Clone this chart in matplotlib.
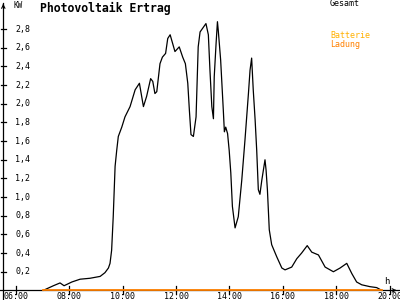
import numpy as np
import matplotlib.pyplot as plt

# Gesamt (kW), time in hours
hours = [7.03, 7.41, 7.66, 7.81, 8.10, 8.41, 8.78, 9.16, 9.34, 9.47, 9.53, 9.59, 9.65, 9.72,
         9.78, 9.84, 9.97, 10.09, 10.28, 10.47, 10.63, 10.78, 10.90, 11.05, 11.13, 11.21,
         11.28, 11.40, 11.49, 11.61, 11.69, 11.78, 11.96, 12.12, 12.25, 12.35, 12.44, 12.50,
         12.56, 12.65, 12.75, 12.83, 12.90, 13.12, 13.21, 13.27, 13.34, 13.40, 13.43, 13.50,
         13.55, 13.58, 13.67, 13.77, 13.81, 13.86, 13.93, 13.99, 14.05, 14.11, 14.21, 14.33,
         14.46, 14.58, 14.71, 14.77, 14.83, 14.89, 14.96, 15.02, 15.08, 15.14, 15.21, 15.27,
         15.33, 15.37, 15.42, 15.49, 15.58, 15.77, 15.96, 16.08, 16.33, 16.52, 16.70, 16.91,
         17.08, 17.33, 17.58, 17.89, 18.14, 18.39, 18.58, 18.76, 18.95, 19.26, 19.51, 19.70]
gesamt = [0.00, 0.05, 0.08, 0.05, 0.09, 0.12, 0.13, 0.15, 0.19, 0.24, 0.29, 0.43, 0.79, 1.33,
          1.50, 1.65, 1.75, 1.86, 1.97, 2.15, 2.22, 1.97, 2.08, 2.27, 2.24, 2.11,
          2.13, 2.43, 2.50, 2.54, 2.70, 2.74, 2.56, 2.61, 2.50, 2.43, 2.22, 1.93,
          1.67, 1.65, 1.86, 2.61, 2.77, 2.86, 2.74, 2.36, 1.97, 1.84, 2.29, 2.65,
          2.88, 2.79, 2.47, 1.93, 1.70, 1.75, 1.68, 1.50, 1.26, 0.90, 0.67, 0.79,
          1.18, 1.61, 2.11, 2.36, 2.49, 2.15, 1.83, 1.50, 1.08, 1.03, 1.18, 1.29,
          1.40, 1.29, 1.08, 0.65, 0.49, 0.36, 0.24, 0.22, 0.25, 0.34, 0.40, 0.48,
          0.41, 0.38, 0.25, 0.20, 0.24, 0.29, 0.18, 0.09, 0.06, 0.04, 0.03, 0.00]

# Ladung (battery charge) stays at zero
ladung_hours = [7.03, 19.70]
ladung = [0.0, 0.0]

y_ticks = [0.2, 0.4, 0.6, 0.8, 1.0, 1.2, 1.4, 1.6, 1.8, 2.0, 2.2, 2.4, 2.6, 2.8]
x_ticks = [6, 8, 10, 12, 14, 16, 18, 20]
x_labels = ['06:00', '08:00', '10:00', '12:00', '14:00', '16:00', '18:00', '20:00']

W, H = 400, 300
px_h = 26.72      # pixels per hour
px_kw = 93.3      # pixels per kW
x06 = 15.7        # pixel of 06:00
y0 = 290.4        # pixel of 0 kW

t0 = 6 - x06 / px_h
t1 = t0 + W / px_h
v_top = y0 / px_kw
v_bot = -(H - y0) / px_kw

fig = plt.figure(figsize=(4, 3), dpi=100)
ax = fig.add_axes([0, 0, 1, 1])
ax.set_xlim(t0, t1)
ax.set_ylim(v_bot, v_top)
ax.axis('off')

mono = 'DejaVu Sans Mono'

def fx(px):
    return px / W

def fy(py):
    return 1 - py / H

# axes lines with arrows
y_axis_t = t0 + 3.3 / px_h
ax.plot([y_axis_t, y_axis_t], [v_bot, v_top - 3 / px_kw], color='black', lw=0.9)
ax.plot([t0, t1 - 1 / px_h], [0, 0], color='black', lw=0.9)
ax.annotate('', xy=(y_axis_t, v_top - 1 / px_kw), xytext=(y_axis_t, v_top - 8 / px_kw),
            arrowprops=dict(arrowstyle='->', color='black', lw=0.8, mutation_scale=6))
ax.annotate('', xy=(t1 - 0.5 / px_h, 0), xytext=(t1 - 8 / px_h, 0),
            arrowprops=dict(arrowstyle='->', color='black', lw=0.8, mutation_scale=6))

# ticks
for v in y_ticks:
    ax.plot([y_axis_t - 2.5 / px_h, y_axis_t + 2.5 / px_h], [v, v], color='black', lw=0.9)
    ax.text(t0 + 15 / px_h, v, ('%.1f' % v).replace('.', ','), fontsize=6, family=mono,
            ha='left', va='center', color='black')
for t, lab in zip(x_ticks, x_labels):
    ax.plot([t, t], [-4 / px_kw, 4 / px_kw], color='black', lw=0.9)
    ax.text(t, -6.5 / px_kw, lab, fontsize=6, family=mono, ha='center', va='center',
            color='black')

# series
ax.plot(hours, gesamt, color='black', lw=0.9)
ax.plot(ladung_hours, ladung, color='#ff8000', lw=1.3)

# texts
fig.text(fx(40), fy(8), 'Photovoltaik Ertrag', fontsize=8.3, family=mono,
         fontweight='bold', ha='left', va='center')
fig.text(fx(13), fy(5), 'KW', fontsize=5.5, family=mono, ha='left', va='center')
fig.text(fx(330), fy(4), 'Gesamt', fontsize=6, family=mono, ha='left', va='center')
fig.text(fx(330), fy(36), 'Batterie', fontsize=6, family=mono, ha='left', va='center',
         color='#ffb000')
fig.text(fx(330), fy(44), 'Ladung', fontsize=6, family=mono, ha='left', va='center',
         color='#ff8000')
fig.text(fx(384), fy(282), 'h', fontsize=6.5, family=mono, ha='left', va='center')

fig.savefig('out.png', dpi=100)
